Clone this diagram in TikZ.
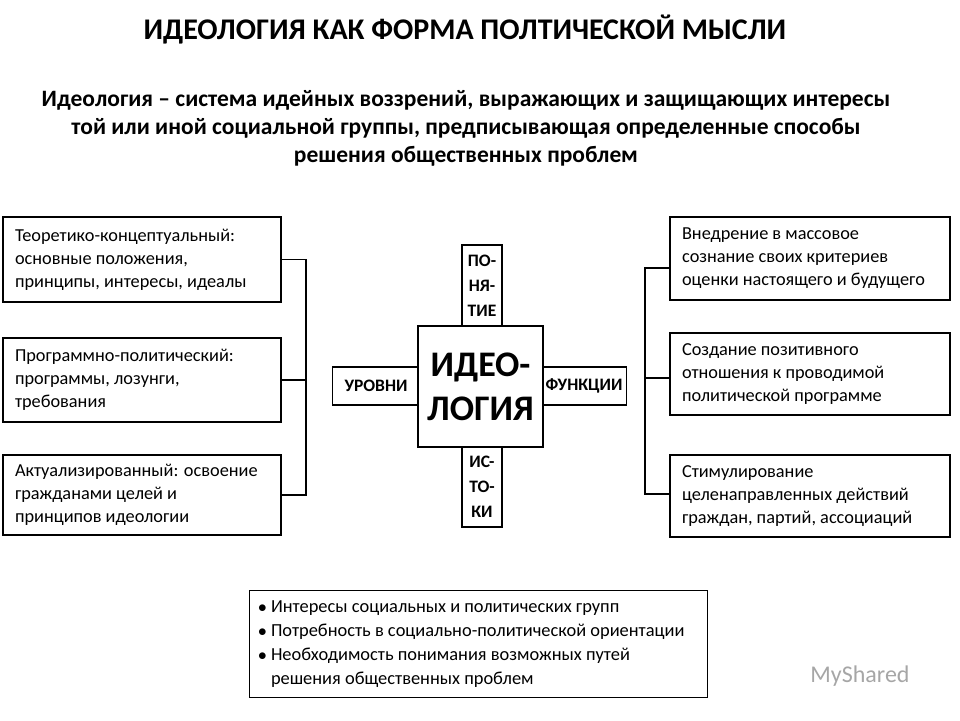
\documentclass[tikz,border=0pt]{standalone}
\usepackage{fontspec}
\setmainfont{Carlito}
\begin{document}
\begin{tikzpicture}[x=1pt,y=-1pt,
  box/.style={draw,line width=1.2pt,align=flush left,font=\fontsize{18.3}{23}\selectfont,inner xsep=12pt,anchor=center},
  cbox/.style={draw,line width=1.2pt,align=center,font=\bfseries\fontsize{17.5}{25}\selectfont,inner sep=0pt,fill=white},
  ln/.style={line width=1.2pt}]
\useasboundingbox (0,0) rectangle (960,720);
\node[font=\bfseries\fontsize{30}{34}\selectfont] (title) at (465,30) {ИДЕОЛОГИЯ КАК ФОРМА ПОЛТИЧЕСКОЙ МЫСЛИ};
\node[font=\bfseries\fontsize{23.5}{28}\selectfont,align=center] (def) at (466,128) {Идеология -- система идейных воззрений, выражающих и защищающих интересы\\той или иной социальной группы, предписывающая определенные способы\\решения общественных проблем};
% left
\node[box,minimum width=278pt,minimum height=85pt,text width=254pt] (l1) at (142,259.5) {Теоретико-концептуальный:\\основные положения,\\принципы, интересы, идеалы};
\node[box,minimum width=278pt,minimum height=84pt,text width=254pt] (l2) at (142,380) {Программно-политический:\\программы, лозунги,\\требования};
\node[box,minimum width=278pt,minimum height=80pt,text width=254pt] (l3) at (142,495) {Актуализированный: освоение\\гражданами целей и\\принципов идеологии};
\coordinate (lv1) at (306,259.5);
\coordinate (lv3) at (306,495);
\draw[ln] (l1.east) -- (lv1) -- (lv3) -- (l3.east);
\draw[ln] (l2.east) -- (l2.east -| lv1);
% right
\node[box,minimum width=280pt,minimum height=83pt,text width=256pt] (r1) at (810,258.5) {Внедрение в массовое\\сознание своих критериев\\оценки настоящего и будущего};
\node[box,minimum width=280pt,minimum height=82pt,text width=256pt] (r2) at (810,374) {Создание позитивного\\отношения к проводимой\\политической программе};
\node[box,minimum width=280pt,minimum height=82pt,text width=256pt] (r3) at (810,496) {Стимулирование\\целенаправленных действий\\граждан, партий, ассоциаций};
\coordinate (rv1) at (645,268);
\coordinate (rv3) at (645,494);
\draw[ln] (r1.west |- rv1) -- (rv1) -- (rv3) -- (r3.west |- rv3);
\draw[ln] (r2.west |- 0,378) -- (645,378);
% center
\node[cbox,minimum width=40pt,minimum height=82pt] (pon) at (482,286) {ПО-\\НЯ-\\ТИЕ};
\node[cbox,minimum width=40pt,minimum height=80pt] (ist) at (482,487) {ИС-\\ТО-\\КИ};
\node[cbox,minimum width=87pt,minimum height=38pt] (urov) at (376,386) {УРОВНИ};
\node[cbox,minimum width=85pt,minimum height=38pt] (func) at (584,386) {ФУНКЦИИ};
\node[cbox,minimum width=125pt,minimum height=121pt,font=\bfseries\fontsize{36}{44}\selectfont] (ideo) at (480.5,386.5) {ИДЕО-\\ЛОГИЯ};
% bottom
\node[draw,line width=1.2pt,minimum width=458pt,minimum height=107pt,anchor=north west] (bot) at (249,590) {};
\node[anchor=north west,align=flush left,font=\fontsize{18.4}{24}\selectfont,inner sep=0pt] (btxt) at (258,600) {$\bullet$ Интересы социальных и политических групп\\$\bullet$ Потребность в социально-политической ориентации\\$\bullet$ Необходимость понимания возможных путей\\\phantom{$\bullet$ }решения общественных проблем};
\node[text=gray!70,font=\fontsize{24}{28}\selectfont] (logo) at (860,676) {MyShared};
\end{tikzpicture}
\end{document}
